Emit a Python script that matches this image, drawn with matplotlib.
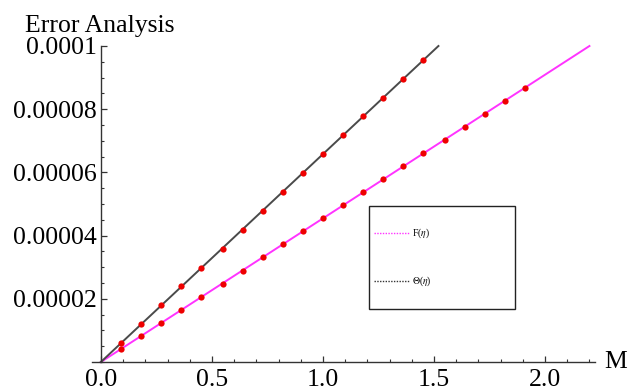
import matplotlib
matplotlib.use("Agg")
import matplotlib.pyplot as plt
from matplotlib.patches import Rectangle
from matplotlib.lines import Line2D
from matplotlib.ticker import MultipleLocator

plt.rcParams['font.family'] = ['Liberation Serif', 'DejaVu Serif']
plt.rcParams['mathtext.fontset'] = 'stix'

# Lines (endpoints)
f_line_x = [0.0, 2.2]
f_line_y = [0.0, 0.0001]
theta_line_x = [0.0, 1.52]
theta_line_y = [0.0, 0.0001]

# Red points on F(eta)
f_pts_x = [0.09, 0.18, 0.27, 0.36, 0.45, 0.55, 0.64, 0.73, 0.82, 0.91, 1.00,
           1.09, 1.18, 1.27, 1.36, 1.45, 1.55, 1.64, 1.73, 1.82, 1.91]
f_pts_y = [0.41e-5, 0.83e-5, 1.24e-5, 1.65e-5, 2.07e-5, 2.48e-5, 2.89e-5,
           3.31e-5, 3.72e-5, 4.13e-5, 4.55e-5, 4.96e-5, 5.37e-5, 5.79e-5,
           6.20e-5, 6.61e-5, 7.02e-5, 7.44e-5, 7.85e-5, 8.26e-5, 8.68e-5]
# Red points on Theta(eta)
theta_pts_x = [0.09, 0.18, 0.27, 0.36, 0.45, 0.55, 0.64, 0.73, 0.82, 0.91,
               1.00, 1.09, 1.18, 1.27, 1.36, 1.45]
theta_pts_y = [0.60e-5, 1.20e-5, 1.79e-5, 2.39e-5, 2.99e-5, 3.59e-5, 4.19e-5,
               4.79e-5, 5.38e-5, 5.98e-5, 6.58e-5, 7.18e-5, 7.78e-5, 8.37e-5,
               8.97e-5, 9.57e-5]

x_ticks = [0.0, 0.5, 1.0, 1.5, 2.0]
x_tick_labels = ["0.0", "0.5", "1.0", "1.5", "2.0"]
y_ticks = [0.00002, 0.00004, 0.00006, 0.00008, 0.0001]
y_tick_labels = ["0.00002", "0.00004", "0.00006", "0.00008", "0.0001"]

W, H = 630, 391
fig = plt.figure(figsize=(6.3, 3.91), dpi=100)
ax = fig.add_axes([92 / W, (H - 362) / H, 503 / W, 316 / H])
ax.set_xlim(-0.04, 2.225)
ax.set_ylim(0, 0.0001)

axis_col = '#333333'
for s in ['top', 'right']:
    ax.spines[s].set_visible(False)
ax.spines['left'].set_position(('data', 0))
ax.spines['bottom'].set_position(('data', 0))
for s in ['left', 'bottom']:
    ax.spines[s].set_color(axis_col)
    ax.spines[s].set_linewidth(1.0)

ax.plot(f_line_x, f_line_y, color='#ff33ff', lw=1.4, clip_on=False, zorder=2)
ax.plot(theta_line_x, theta_line_y, color='#4a4a4a', lw=1.4, clip_on=False, zorder=2)
ax.plot(f_pts_x, f_pts_y, 'o', color='#ee0000', ms=4.5, mec='none', clip_on=False, zorder=3)
ax.plot(theta_pts_x, theta_pts_y, 'o', color='#ee0000', ms=4.5, mec='none', clip_on=False, zorder=3)

ax.set_xticks(x_ticks)
ax.set_xticklabels(x_tick_labels)
ax.set_yticks(y_ticks)
ax.set_yticklabels(y_tick_labels)
ax.xaxis.set_minor_locator(MultipleLocator(0.1))
ax.yaxis.set_minor_locator(MultipleLocator(0.000005))
ax.tick_params(which='major', direction='in', length=4.5, width=0.9, color=axis_col,
               labelsize=18.5, labelcolor='black')
ax.tick_params(which='minor', direction='in', length=2.5, width=0.8, color=axis_col)
ax.tick_params(axis='x', which='major', pad=5)
ax.tick_params(axis='y', which='major', pad=3)

fig.text(25 / W, (H - 32) / H, "Error Analysis", fontsize=18.5, va='baseline', ha='left')
fig.text(604 / W, (H - 362) / H, "M", fontsize=18.5, va='center', ha='left')

# Legend box
leg_ax = fig.add_axes([0, 0, 1, 1], facecolor='none')
leg_ax.set_xlim(0, W)
leg_ax.set_ylim(H, 0)
leg_ax.axis('off')
leg_ax.add_patch(Rectangle((369, 206), 146, 103, fill=True, facecolor='white',
                           edgecolor='#222222', lw=1.0))
leg_ax.add_line(Line2D([374, 409], [233, 233], color='#ff33ff', lw=1.0, ls=(0, (1, 1))))
leg_ax.add_line(Line2D([374, 409], [281, 281], color='#333333', lw=1.0, ls=(0, (1, 1))))
leg_ax.text(412, 233, r"F($\eta$)", fontsize=7, va='center', ha='left')
leg_ax.text(412, 281, r"$\Theta$($\eta$)", fontsize=7, va='center', ha='left')

fig.savefig("out.png", dpi=100)
